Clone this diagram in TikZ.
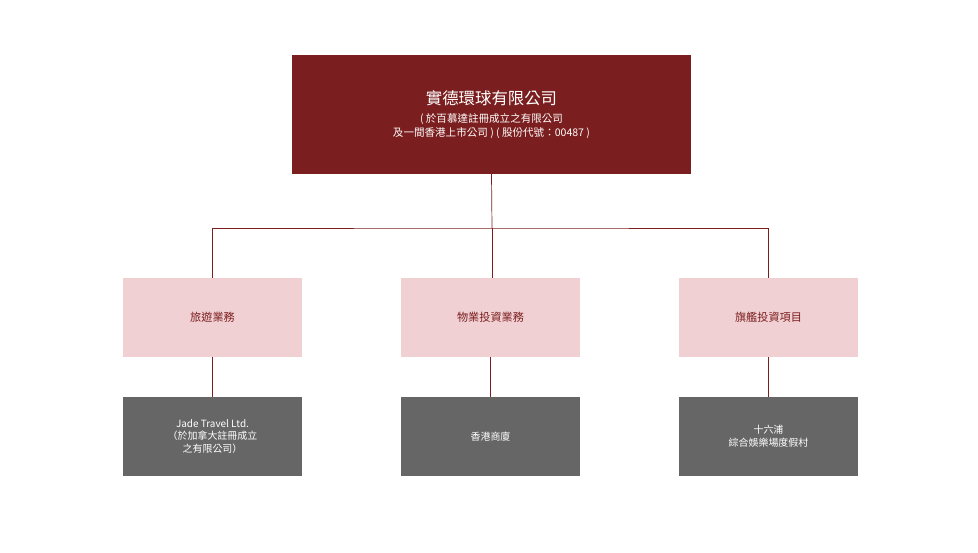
\documentclass[tikz,border=0pt]{standalone}
\usepackage{fontspec}
\setmainfont{Noto Sans CJK TC}
\usetikzlibrary{positioning}
\definecolor{maroon}{HTML}{7B1E1F}
\definecolor{blush}{HTML}{F0D0D2}
\definecolor{slate}{HTML}{666666}
\tikzset{
  headbox/.style={fill=maroon, text=white, minimum width=399*0.03cm, minimum height=119*0.03cm, align=center, inner sep=0pt},
  segbox/.style={fill=blush, text=maroon, minimum width=179*0.03cm, minimum height=79*0.03cm, font=\fontsize{9.5}{12}\selectfont, inner sep=0pt},
  unitbox/.style={fill=slate, text=white, minimum width=179*0.03cm, minimum height=79*0.03cm, align=center, font=\fontsize{8.5}{11}\selectfont, inner sep=0pt},
  link/.style={draw=maroon, line width=0.6pt}
}
\begin{document}
\begin{tikzpicture}[x=0.03cm, y=-0.03cm]
\useasboundingbox (0,0) rectangle (978,552);

\node[headbox] (head) at (491.5,114.5) {{\fontsize{14}{18}\selectfont 實德環球有限公司}\\[3pt]
  {\fontsize{9}{12}\selectfont ( 於百慕達註冊成立之有限公司}\\
  {\fontsize{9}{12}\selectfont 及一間香港上市公司 ) ( 股份代號：00487 )}};

\node[segbox] (travel) at (212.5,317.5) {旅遊業務};
\node[segbox] (property) at (490.5,317.5) {物業投資業務};
\node[segbox] (flagship) at (768.5,317.5) {旗艦投資項目};

\node[unitbox] (jade) at (212.5,436.5) {Jade Travel Ltd.\\（於加拿大註冊成立\\之有限公司）};
\node[unitbox] (plaza) at (490.5,436.5) {香港商廈};
\node[unitbox] (resort) at (768.5,436.5) {十六浦\\綜合娛樂場度假村};

\coordinate (bus) at (492,228);
\draw[link] (head.south) -- (bus);
\draw[link] (travel.north) |- (bus) -| (flagship.north);
\draw[link] (bus) -- (bus |- property.north);
\draw[link] (travel) -- (jade);
\draw[link] (property) -- (plaza);
\draw[link] (flagship) -- (resort);
\end{tikzpicture}
\end{document}
